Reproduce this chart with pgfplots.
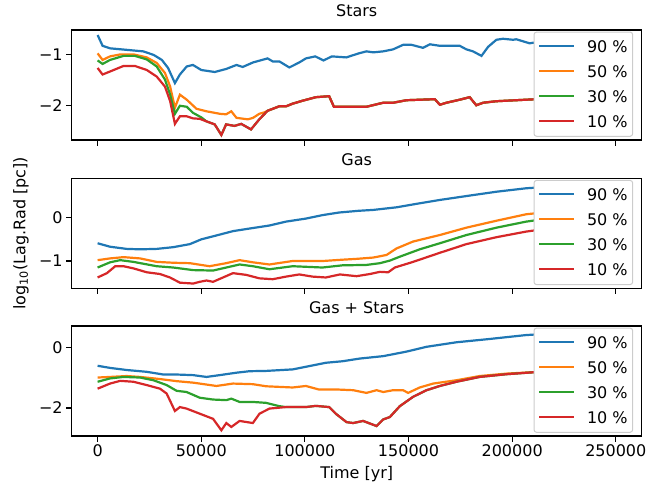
\documentclass[border=0pt]{standalone}
\usepackage{fontspec}
\setmainfont{DejaVu Sans}
\usepackage{pgfplots}
\pgfplotsset{compat=1.18}
\definecolor{c0}{HTML}{1F77B4}
\definecolor{c1}{HTML}{FF7F0E}
\definecolor{c2}{HTML}{2CA02C}
\definecolor{c3}{HTML}{D62728}
\newcommand{\fs}{\fontsize{16}{19}\selectfont}
\newcommand{\li}[1]{\textcolor{#1}{\rule[5.4pt]{35pt}{2.3pt}}\hspace{13pt}}
\newcommand{\mylegend}{\node[anchor=north east, fill=white, draw=black!20, line width=1pt, rounded corners=2.5pt,
  inner xsep=5pt, inner ysep=8.5pt, align=left, font=\fs]
  at (rel axis cs:0.985,0.985)
  {\li{c0}90 \%\\[6pt]\li{c1}50 \%\\[6pt]\li{c2}30 \%\\[6pt]\li{c3}10 \%};}
\pgfplotsset{
  myaxis/.style={
    scale only axis, width=570pt, height=110pt,
    xmin=-12500, xmax=262500,
    xtick={0,50000,100000,150000,200000,250000},
    xticklabels={},
    scaled x ticks=false, scaled y ticks=false,
    axis line style={line width=1.1pt},
    tick align=outside, major tick length=5.5pt,
    tick style={line width=1.1pt, black},
    xtick pos=bottom, ytick pos=left,
    every tick label/.append style={font=\fs},
    title style={at={(0.5,1)}, anchor=base, yshift=7pt, font=\fs},
    every axis plot/.append style={line width=2.2pt},
  }
}
\begin{document}
\begin{tikzpicture}
\path[use as bounding box] (-71.7pt,0pt) rectangle (588.3pt,483pt);
% ---------------- Stars
\begin{axis}[myaxis, at={(0pt,343pt)}, anchor=south west, title={Stars},
  ymin=-2.69, ymax=-0.506, ytick={-2,-1}, yticklabels={−2,−1}]
\addplot[c0] coordinates {(0,-0.605) (2400,-0.82) (6000,-0.87) (14000,-0.90) (22000,-0.93) (27000,-1.0) (31000,-1.10) (34000,-1.26) (37300,-1.56) (39700,-1.39) (43000,-1.23) (46000,-1.20) (50000,-1.30) (56500,-1.34) (62000,-1.28) (67000,-1.20) (70000,-1.24) (75000,-1.15) (82000,-1.07) (84500,-1.13) (87700,-1.13) (92500,-1.25) (97300,-1.15) (100500,-1.07) (105000,-1.03) (109000,-1.11) (113000,-1.03) (120000,-1.05) (126000,-0.97) (129700,-0.93) (133000,-0.95) (137800,-0.93) (142600,-0.89) (147400,-0.80) (151400,-0.80) (157000,-0.86) (160300,-0.79) (165100,-0.82) (174700,-0.82) (177900,-0.89) (181100,-0.93) (185200,-1.02) (188400,-0.84) (192400,-0.70) (195600,-0.68) (200400,-0.70) (202000,-0.69) (208400,-0.77) (213300,-0.74) (229300,-0.67) (236500,-0.63) (245400,-0.67) (250000,-0.65)};
\addplot[c1] coordinates {(0,-0.97) (2400,-1.10) (6000,-1.03) (11000,-0.99) (17300,-0.99) (23700,-1.05) (28500,-1.16) (32500,-1.36) (35000,-1.63) (37300,-2.05) (39700,-1.79) (43000,-1.89) (47700,-2.07) (52500,-2.12) (59000,-2.17) (62000,-2.18) (64500,-2.12) (67000,-2.25) (72500,-2.28) (75000,-2.25) (78000,-2.17) (80500,-2.14) (82000,-2.11) (87700,-2.02) (91000,-2.02) (94000,-1.97) (98900,-1.91) (105300,-1.84) (111700,-1.82) (114000,-2.03) (126000,-2.03) (129700,-2.03) (137800,-1.95) (142600,-1.95) (149000,-1.90) (162700,-1.88) (165100,-1.99) (168300,-1.95) (174700,-1.89) (179500,-1.84) (182700,-2.00) (186000,-1.95) (192400,-1.92) (206800,-1.89) (221300,-1.86) (250000,-1.81)};
\addplot[c2] coordinates {(0,-1.11) (2400,-1.18) (6000,-1.10) (12500,-1.02) (18000,-1.02) (23700,-1.09) (28500,-1.23) (32500,-1.49) (35000,-1.79) (37300,-2.17) (39700,-2.01) (43000,-2.03) (46000,-2.15) (50000,-2.24) (52500,-2.32) (56500,-2.38) (59700,-2.59) (62000,-2.38) (66000,-2.41) (69300,-2.37) (74000,-2.48) (78000,-2.28) (82000,-2.11) (87700,-2.02) (91000,-2.02) (94000,-1.97) (98900,-1.91) (105300,-1.84) (111700,-1.82) (114000,-2.03) (126000,-2.03) (129700,-2.03) (137800,-1.95) (142600,-1.95) (149000,-1.90) (162700,-1.88) (165100,-1.99) (168300,-1.95) (174700,-1.89) (179500,-1.84) (182700,-2.00) (186000,-1.95) (192400,-1.92) (206800,-1.89) (221300,-1.86) (250000,-1.81)};
\addplot[c3] coordinates {(0,-1.26) (2400,-1.39) (6000,-1.33) (12500,-1.22) (18000,-1.22) (23700,-1.30) (28500,-1.43) (32500,-1.63) (35000,-1.92) (37300,-2.37) (39700,-2.22) (43000,-2.22) (46000,-2.26) (49300,-2.27) (52500,-2.32) (56500,-2.38) (59700,-2.59) (62000,-2.38) (66000,-2.41) (69300,-2.37) (74000,-2.48) (78000,-2.28) (82000,-2.11) (87700,-2.02) (91000,-2.02) (94000,-1.97) (98900,-1.91) (105300,-1.84) (111700,-1.82) (114000,-2.03) (126000,-2.03) (129700,-2.03) (137800,-1.95) (142600,-1.95) (149000,-1.90) (162700,-1.88) (165100,-1.99) (168300,-1.95) (174700,-1.89) (179500,-1.84) (182700,-2.00) (186000,-1.95) (192400,-1.92) (206800,-1.89) (221300,-1.86) (250000,-1.81)};
\mylegend
\end{axis}
% ---------------- Gas
\begin{axis}[myaxis, at={(0pt,194.7pt)}, anchor=south west, title={Gas},
  ymin=-1.63, ymax=0.91, ytick={-1,0}, yticklabels={−1,0},
  ylabel={log\textsubscript{10}(Lag.Rad [pc])},
  ylabel style={at={(axis description cs:-0.089,0.5)}, anchor=center, font=\fs}]
\addplot[c0] coordinates {(0,-0.59) (6000,-0.67) (14000,-0.72) (20500,-0.73) (28500,-0.72) (36500,-0.68) (44500,-0.61) (50000,-0.50) (57300,-0.41) (65300,-0.31) (73300,-0.25) (82900,-0.18) (90900,-0.09) (100500,-0.02) (108500,0.06) (116500,0.12) (126000,0.16) (133000,0.18) (144200,0.24) (153800,0.32) (165100,0.41) (177900,0.50) (192400,0.60) (206800,0.68) (229300,0.75) (250000,0.81)};
\addplot[c1] coordinates {(0,-0.98) (6000,-0.94) (12500,-0.91) (20500,-0.94) (28500,-1.02) (36500,-1.04) (44500,-1.05) (54000,-1.12) (62000,-1.05) (68500,-0.98) (74900,-1.03) (82900,-1.08) (94000,-1.00) (108500,-1.00) (118000,-0.97) (125000,-0.95) (133000,-0.92) (139400,-0.86) (144200,-0.71) (152200,-0.55) (165100,-0.40) (177900,-0.23) (192400,-0.07) (206800,0.08) (229300,0.19) (250000,0.32)};
\addplot[c2] coordinates {(0,-1.15) (6000,-1.03) (10900,-0.98) (17300,-1.02) (28500,-1.12) (36500,-1.15) (46100,-1.21) (55700,-1.22) (62100,-1.15) (68500,-1.08) (74900,-1.12) (82900,-1.19) (94100,-1.12) (108500,-1.15) (118000,-1.10) (129700,-1.09) (136200,-1.05) (141000,-0.99) (145800,-0.90) (155400,-0.73) (165100,-0.59) (177900,-0.40) (192400,-0.23) (206800,-0.09) (229300,0.06) (250000,0.16)};
\addplot[c3] coordinates {(0,-1.38) (4500,-1.28) (8500,-1.12) (12500,-1.12) (17300,-1.17) (23700,-1.26) (30100,-1.30) (34900,-1.38) (39700,-1.50) (46100,-1.52) (49300,-1.48) (52500,-1.45) (55700,-1.48) (60500,-1.38) (65300,-1.28) (71700,-1.32) (78100,-1.40) (84500,-1.42) (90900,-1.36) (97300,-1.31) (103700,-1.36) (110100,-1.38) (116900,-1.31) (124900,-1.35) (131400,-1.30) (136200,-1.25) (140200,-1.26) (143400,-1.15) (152200,-1.02) (165100,-0.81) (177900,-0.61) (192400,-0.45) (206800,-0.32) (229300,-0.17) (250000,-0.07)};
\mylegend
\end{axis}
% ---------------- Gas + Stars
\begin{axis}[myaxis, at={(0pt,47pt)}, anchor=south west, title={Gas + Stars},
  ymin=-2.93, ymax=0.72, ytick={-2,0}, yticklabels={−2,0},
  xticklabels={0,50000,100000,150000,200000,250000},
  xlabel={Time [yr]},
  xlabel style={at={(axis description cs:0.5,0)}, anchor=center, yshift=-38.3pt, font=\fs}]
\addplot[c0] coordinates {(0,-0.60) (6000,-0.67) (14000,-0.74) (23700,-0.80) (31700,-0.89) (38100,-0.89) (46100,-0.91) (52500,-0.97) (58900,-0.91) (66900,-0.83) (73300,-0.78) (81300,-0.77) (94100,-0.72) (102100,-0.61) (110100,-0.50) (118100,-0.45) (126500,-0.36) (137800,-0.28) (149000,-0.13) (158700,0.03) (173100,0.18) (189200,0.29) (206800,0.42) (229300,0.51) (250000,0.57)};
\addplot[c1] coordinates {(0,-0.99) (6000,-0.97) (14000,-0.94) (20500,-0.97) (30100,-1.04) (38100,-1.11) (46100,-1.16) (57300,-1.27) (65300,-1.19) (74900,-1.21) (81300,-1.28) (94100,-1.32) (100500,-1.27) (106900,-1.39) (116500,-1.39) (123300,-1.41) (129700,-1.50) (134600,-1.41) (137800,-1.47) (142600,-1.41) (147400,-1.41) (149800,-1.50) (155400,-1.32) (161900,-1.19) (173100,-1.08) (184300,-0.94) (197200,-0.86) (213300,-0.80) (250000,-0.67)};
\addplot[c2] coordinates {(0,-1.13) (6000,-1.02) (12500,-0.97) (20500,-0.99) (26900,-1.08) (33300,-1.24) (38100,-1.43) (42900,-1.47) (49300,-1.66) (55700,-1.72) (62100,-1.74) (64500,-1.69) (68500,-1.80) (74900,-1.80) (81300,-1.83) (87700,-1.94) (90900,-1.97) (100500,-1.97) (105300,-1.93) (111700,-1.97) (114900,-2.19) (120100,-2.47) (123300,-2.50) (128100,-2.43) (134600,-2.60) (137800,-2.38) (141000,-2.30) (145800,-1.94) (152200,-1.63) (158700,-1.41) (165100,-1.27) (173100,-1.13) (184300,-0.97) (197200,-0.88) (213300,-0.80) (250000,-0.69)};
\addplot[c3] coordinates {(0,-1.36) (6000,-1.19) (10900,-1.10) (17300,-1.13) (23700,-1.24) (30100,-1.36) (33300,-1.52) (37300,-2.10) (39700,-1.97) (42900,-2.02) (49300,-2.19) (55700,-2.36) (59700,-2.74) (62100,-2.50) (64500,-2.63) (68500,-2.43) (74900,-2.50) (78100,-2.19) (82900,-2.02) (90900,-1.97) (100500,-1.97) (105300,-1.93) (111700,-1.97) (114900,-2.19) (120100,-2.47) (123300,-2.50) (128100,-2.43) (134600,-2.60) (137800,-2.38) (141000,-2.30) (145800,-1.94) (152200,-1.63) (158700,-1.41) (165100,-1.27) (173100,-1.13) (184300,-0.97) (197200,-0.88) (213300,-0.80) (250000,-0.69)};
\mylegend
\end{axis}
\end{tikzpicture}
\end{document}
